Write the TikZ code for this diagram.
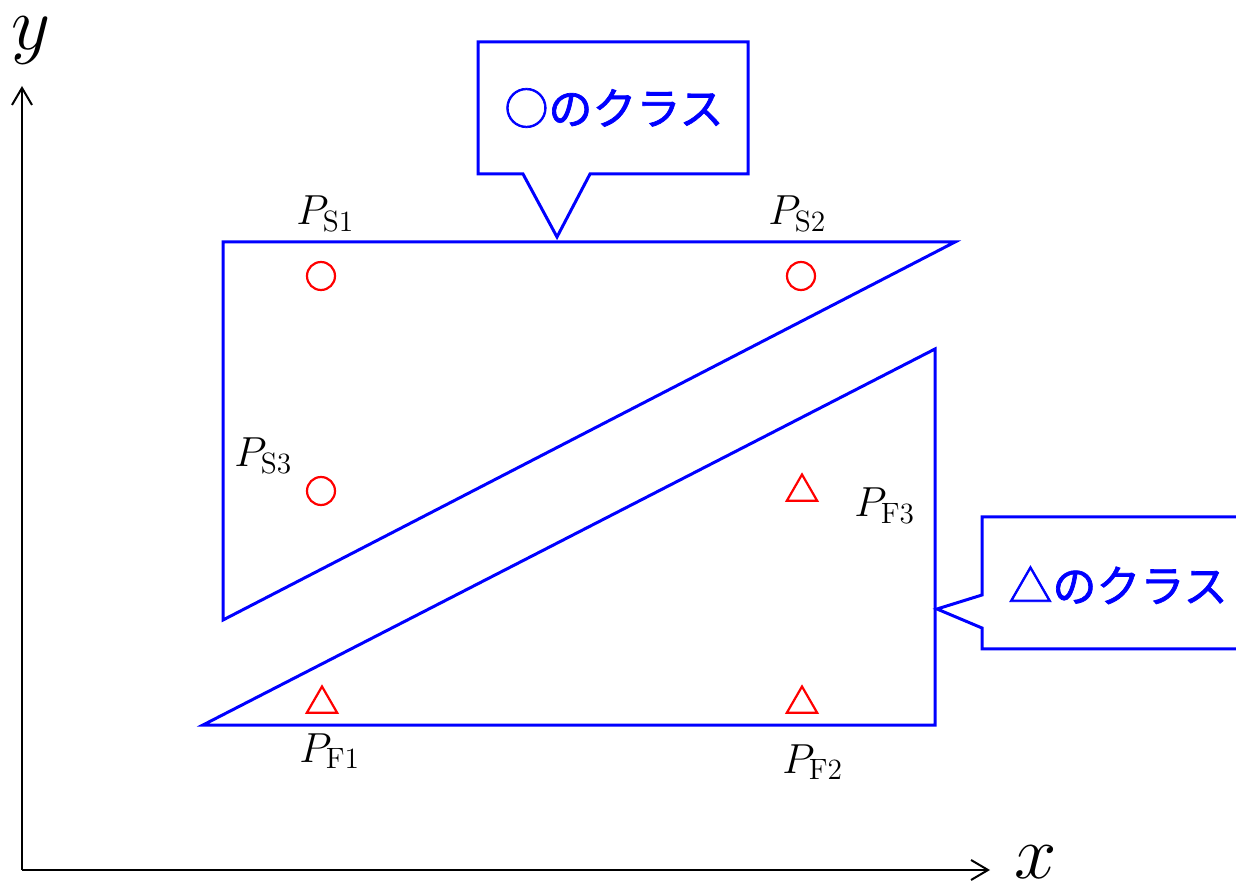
\RequirePackage{fix-cm}
\documentclass[tikz,border=0pt]{standalone}
\usepackage{fontspec}
\usepackage{amsmath}
\newfontfamily\jpfont[FakeBold=1.6]{Noto Sans CJK JP}
\usetikzlibrary{arrows.meta,shapes.geometric}

\begin{document}
\begin{tikzpicture}[x=0.5pt,y=-0.5pt,
    region/.style={draw=blue,line width=1.5pt,line join=miter},
    circmark/.style={circle,draw=red,line width=1.1pt,minimum size=14pt,inner sep=0pt},
    trimark/.style={regular polygon,regular polygon sides=3,draw=red,line width=1.1pt,minimum size=17.5pt,inner sep=0pt},
    ptlabel/.style={anchor=base west,inner sep=0pt,font=\fontsize{21}{25}\selectfont},
    axlabel/.style={anchor=base west,inner sep=0pt,font=\fontsize{38}{44}\selectfont},
    classtext/.style={text=blue,font=\jpfont\fontsize{22}{26}\selectfont}]
  \useasboundingbox (0,0) rectangle (1236,886);
  \coordinate (O) at (22,870);
  \coordinate (ytip) at (22,86);
  \coordinate (xtip) at (990,870);
  \draw[line width=1pt,-{Straight Barb[length=8.5pt,width=10pt]}] (O) -- (ytip);
  \draw[line width=1pt,-{Straight Barb[length=8.5pt,width=10pt]}] (O) -- (xtip);
  \node[axlabel] (ylab) at (11,50) {$y$};
  \node[axlabel] (xlab) at (1014,878) {$x$};
  \draw[region] (223,242) -- (955,242) -- (223,620) -- cycle;
  \draw[region] (203,725) -- (935,349) -- (935,725) -- cycle;
  \draw[region] (523,174) -- (478,174) -- (478,42) -- (748,42) -- (748,174) -- (590,174) -- (557,237) -- cycle;
  \draw[region] (1240,517) -- (982,517) -- (982,595) -- (937,609) -- (982,628) -- (982,649) -- (1240,649);
  \node[classtext] (clsS) at (614,108) {○のクラス};
  \node[classtext] (clsF) at (1118,585) {△のクラス};
  \node[circmark] (s1) at (321,276) {};
  \node[circmark] (s2) at (801,276) {};
  \node[circmark] (s3) at (321,491) {};
  \node[trimark] (f1) at (322,704) {};
  \node[trimark] (f2) at (802,704) {};
  \node[trimark] (f3) at (802,492) {};
  \node[ptlabel] (ls1) at (296,225) {$P_{\mathrm{S1}}$};
  \node[ptlabel] (ls2) at (768,225) {$P_{\mathrm{S2}}$};
  \node[ptlabel] (ls3) at (234,467) {$P_{\mathrm{S3}}$};
  \node[ptlabel] (lf1) at (299,762) {$P_{\mathrm{F1}}$};
  \node[ptlabel] (lf2) at (782,773) {$P_{\mathrm{F2}}$};
  \node[ptlabel] (lf3) at (854,517) {$P_{\mathrm{F3}}$};
\end{tikzpicture}
\end{document}
